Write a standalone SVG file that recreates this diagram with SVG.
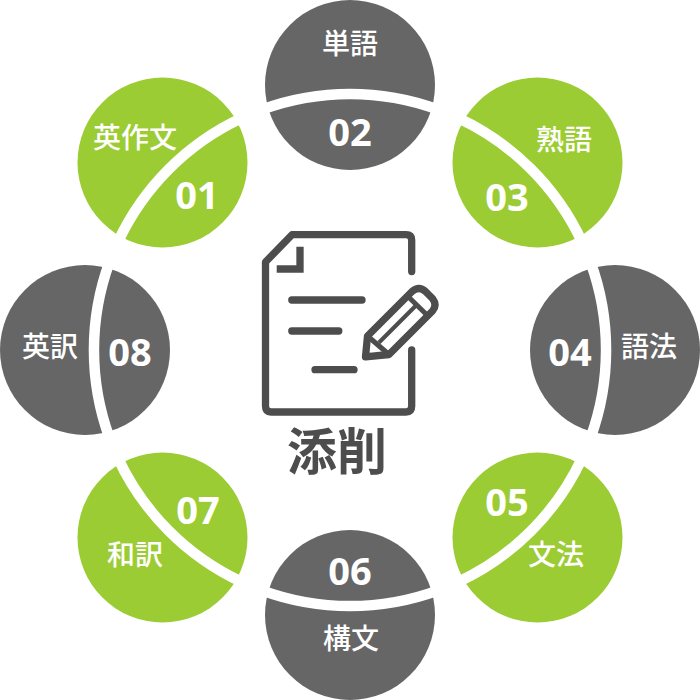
<svg xmlns="http://www.w3.org/2000/svg" width="700" height="700" viewBox="0 0 700 700">
<style>
.g{fill:#9ccc33}.d{fill:#666}
.b{fill:none;stroke:#fff;stroke-width:10.5}
text{fill:#fff;text-anchor:middle;font-family:"Noto Sans CJK JP","Open Sans",sans-serif}
.l{font-size:28px;font-weight:500}
.n{font-size:38px;font-weight:700;font-family:"Open Sans","Noto Sans",sans-serif}
.i{fill:none;stroke:#4d4d4d;stroke-width:7.3;stroke-linecap:round;stroke-linejoin:round}
</style>
<g id="n01"><circle class="g" cx="162.5" cy="162.5" r="85"/><path class="b" d="M118 241.8A256 256 0 0 1 241.8 118"/><text class="l" x="135" y="148">英作文</text><text class="n" x="197" y="209">01</text></g>
<g id="n02"><circle class="d" cx="350" cy="85" r="85"/><path class="b" d="M262.4 109.4A256 256 0 0 1 437.6 109.4"/><text class="l" x="350" y="54">単語</text><text class="n" x="350" y="146">02</text></g>
<g id="n03"><circle class="g" cx="537.5" cy="162.5" r="85"/><path class="b" d="M458.2 118A256 256 0 0 1 582 241.8"/><text class="l" x="564" y="150">熟語</text><text class="n" x="507" y="211">03</text></g>
<g id="n04"><circle class="d" cx="615" cy="350" r="85"/><path class="b" d="M590.6 262.4A256 256 0 0 1 590.6 437.6"/><text class="l" x="649" y="357">語法</text><text class="n" x="570" y="366">04</text></g>
<g id="n05"><circle class="g" cx="537.5" cy="537.5" r="85"/><path class="b" d="M582 458.2A256 256 0 0 1 458.2 582"/><text class="l" x="556" y="565">文法</text><text class="n" x="507" y="516">05</text></g>
<g id="n06"><circle class="d" cx="350" cy="615" r="85"/><path class="b" d="M262.4 590.6A256 256 0 0 0 437.6 590.6"/><text class="l" x="351" y="649">構文</text><text class="n" x="350" y="585">06</text></g>
<g id="n07"><circle class="g" cx="162.5" cy="537.5" r="85"/><path class="b" d="M118 458.2A256 256 0 0 0 241.8 582"/><text class="l" x="135" y="565">和訳</text><text class="n" x="198" y="524">07</text></g>
<g id="n08"><circle class="d" cx="85" cy="350" r="85"/><path class="b" d="M109.4 262.4A256 256 0 0 0 109.4 437.6"/><text class="l" x="50" y="357">英訳</text><text class="n" x="130" y="366">08</text></g>
<g id="center">
<path class="i" d="M411.7 271.5V240Q411.7 234.7 406 234.7H292L265.5 262V406Q265.5 412 271 412H406Q411.7 412 411.7 406V350"/>
<path class="i" style="stroke-linecap:butt;stroke-linejoin:miter" d="M300 246.7V269H276.7"/>
<path class="i" d="M291.8 300H362M291.8 331H338.8M315 369.7H354"/>
<path class="i" d="M367.5 336L412 291.5Q419 285.5 425.5 291.5L432.5 298.5Q437.5 305 432.5 311L389 354.5L365.5 356.8Z"/>
<path class="i" style="stroke-width:5;stroke-linecap:butt" d="M367.5 336L389 354.5M408 296.5L428 316"/>
<path class="i" style="stroke-width:4;stroke-linecap:butt" d="M379 342.5L416.5 305"/>
<text x="337" y="470" style="fill:#4d4d4d;font-size:50px;font-weight:700">添削</text>
</g>
</svg>
